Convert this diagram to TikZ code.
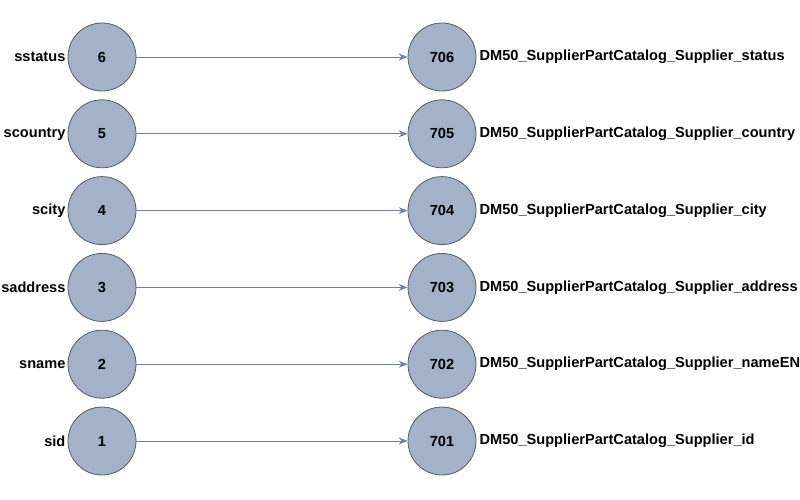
\documentclass[tikz,border=0pt]{standalone}
\usepackage{fontspec}
\setmainfont{Liberation Sans}
\usetikzlibrary{arrows.meta}
\definecolor{nodefill}{HTML}{A3B1C9}
\definecolor{nodeline}{HTML}{555A63}
\definecolor{edgecol}{HTML}{6F82A3}
\tikzset{
  x=1pt,y=-1pt,
  circ/.style={circle,draw=nodeline,fill=nodefill,line width=0.8pt,minimum size=68pt,inner sep=0pt,font=\fontsize{14.6}{16}\selectfont\bfseries},
  lbl/.style={font=\fontsize{14.6}{16}\selectfont\bfseries,inner sep=0pt},
  edge/.style={draw=edgecol,line width=0.9pt,-{Stealth[length=9pt,width=7pt]}}
}
\begin{document}
\begin{tikzpicture}
\useasboundingbox (0,0) rectangle (800,500);
\foreach \i/\l/\r/\n in {0/sstatus/706/status,1/scountry/705/country,2/scity/704/city,3/saddress/703/address,4/sname/702/nameEN,5/sid/701/id}{
  \pgfmathsetmacro{\yy}{57+76.8*\i}
  \pgfmathtruncatemacro{\k}{6-\i}
  \node[circ] (L\k) at (102,\yy) {\k};
  \node[circ] (R\k) at (442,\yy) {\r};
  \node[lbl,anchor=east] (LL\k) at ([xshift=-2pt]L\k.west) {\l};
  \node[lbl,anchor=west] (RL\k) at ([xshift=3pt]R\k.east) {DM50\_SupplierPartCatalog\_Supplier\_\n};
  \draw[edge] (L\k) -- (R\k);
}
\end{tikzpicture}
\end{document}
